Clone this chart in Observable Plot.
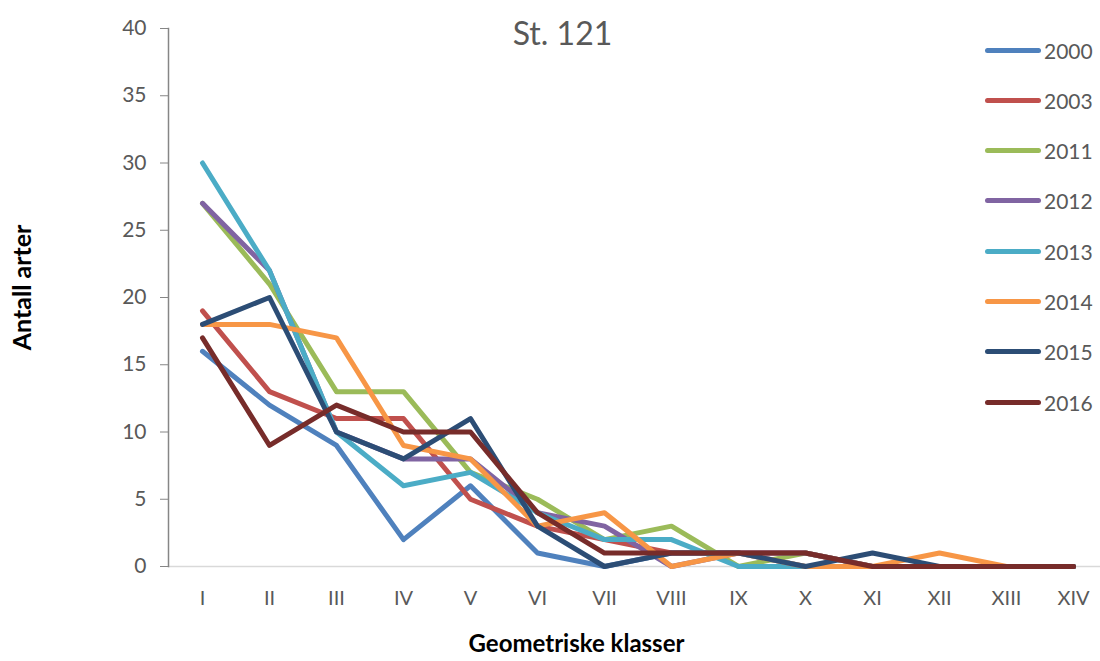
<!DOCTYPE html>
<html>
<head>
<meta charset="utf-8">
<script src="https://cdn.jsdelivr.net/npm/d3@7"></script>
<script src="https://cdn.jsdelivr.net/npm/@observablehq/plot@0.6"></script>
<style>
  html, body { margin: 0; padding: 0; background: #fff; }
  #wrap { position: relative; width: 1100px; height: 661px; font-family: Lato, "Open Sans", sans-serif; }
  #legend { position: absolute; left: 985px; top: 0; }
  .item { position: absolute; left: 0; display: flex; align-items: center; white-space: nowrap; }
  .sw { width: 56px; height: 5px; border-radius: 3px; margin-right: 3px; }
  .lab { font-size: 21px; color: #595959; }
</style>
</head>
<body>
<div id="wrap"></div>
<script>
const classes = ["I","II","III","IV","V","VI","VII","VIII","IX","X","XI","XII","XIII","XIV"];
const years = ["2000","2003","2011","2012","2013","2014","2015","2016"];
const colors = ["#4F81BD","#C0504D","#9BBB59","#8064A2","#4BACC6","#F79646","#2C4D75","#772C2A"];
const yTicks = [0,5,10,15,20,25,30,35,40];

const s2000 = [16,12,9,2,6,1,0,1,1,0,0,0,0,0];
const s2003 = [19,13,11,11,5,3,2,1,1,1,0,0,0,0];
const s2011 = [27,21,13,13,7,5,2,3,0,1,0,0,0,0];
const s2012 = [27,22,10,8,8,4,3,0,1,1,0,0,0,0];
const s2013 = [30,22,10,6,7,4,2,2,0,0,0,0,0,0];
const s2014 = [18,18,17,9,8,3,4,0,1,0,0,1,0,0];
const s2015 = [18,20,10,8,11,3,0,1,1,0,1,0,0,0];
const s2016 = [17,9,12,10,10,4,1,1,1,1,0,0,0,0];

const series = [s2000,s2003,s2011,s2012,s2013,s2014,s2015,s2016];
const data = years.flatMap((yr, i) => series[i].map((v, j) => ({year: yr, klasse: classes[j], value: v})));

const chart = Plot.plot({
  width: 1100,
  height: 661,
  marginTop: 28,
  marginBottom: 95,
  marginLeft: 168,
  marginRight: 0,
  style: {fontFamily: "Lato, 'Open Sans', sans-serif", background: "#fff"},
  x: {type: "point", domain: classes, range: [168, 1107], padding: 0.5},
  y: {domain: [0, 40]},
  color: {domain: years, range: colors},
  marks: [
    Plot.ruleY([0], {stroke: "#D9D9D9", strokeWidth: 1.5}),
    Plot.frame({anchor: "left", stroke: "#868686", strokeWidth: 1.5}),
    Plot.axisY({ticks: yTicks, tickSize: 8, tickPadding: 14, fontSize: 21, stroke: "#868686", fill: "#595959", label: null}),
    Plot.axisX({tickSize: 0, tickPadding: 24, fontSize: 20, fill: "#595959", label: null}),
    Plot.line(data, {x: "klasse", y: "value", z: "year", stroke: "year", strokeWidth: 5, strokeLinejoin: "round", strokeLinecap: "round"}),
    Plot.text(["St. 121"], {frameAnchor: "top", dx: -72, dy: -6, fontSize: 32, fill: "#595959"}),
    Plot.text(["Antall arter"], {frameAnchor: "left", textAnchor: "middle", dx: -146, dy: -10, rotate: -90, fontSize: 25, fontWeight: "bold", fill: "#000"}),
    Plot.text(["Geometriske klasser"], {frameAnchor: "bottom", dx: -58, dy: 85, fontSize: 24, fontWeight: "bold", fill: "#000"})
  ]
});

const wrap = document.getElementById("wrap");
wrap.appendChild(chart);

const legend = document.createElement("div");
legend.id = "legend";
years.forEach((yr, i) => {
  const item = document.createElement("div");
  item.className = "item";
  item.style.top = (50 + i * 50.3 - 12) + "px";
  item.style.height = "24px";
  const sw = document.createElement("span");
  sw.className = "sw";
  sw.style.background = colors[i];
  const lab = document.createElement("span");
  lab.className = "lab";
  lab.textContent = yr;
  item.appendChild(sw);
  item.appendChild(lab);
  legend.appendChild(item);
});
wrap.appendChild(legend);
</script>
</body>
</html>
